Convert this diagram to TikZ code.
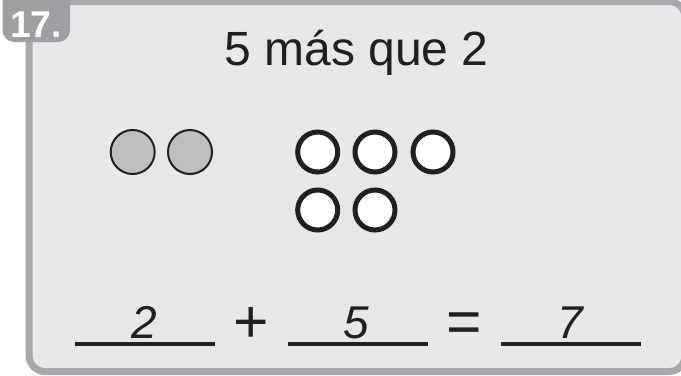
\documentclass[tikz,border=0pt]{standalone}
\usepackage{fontspec}
\setmainfont{Liberation Sans}
\usepackage{tikz}
\usepackage{xcolor}
\usetikzlibrary{positioning}

\definecolor{panelfill}{HTML}{E6E7E8}
\definecolor{panelline}{HTML}{A7A9AC}
\definecolor{badgegray}{HTML}{9D9FA2}
\definecolor{countergray}{HTML}{BCBEC0}
\definecolor{inkblack}{HTML}{231F20}

\begin{document}
\begin{tikzpicture}[
      x=0.75pt, y=-0.75pt,
      panel/.style={draw=panelline, fill=panelfill, line width=5.25pt, rounded corners=12pt},
      graycounter/.style={circle, draw=inkblack, fill=countergray, line width=1.5pt, minimum size=33pt, inner sep=0pt},
      whitecounter/.style={circle, draw=inkblack, fill=white, line width=3.75pt, minimum size=30pt, inner sep=0pt},
      bigtext/.style={anchor=base, inner sep=0pt, text=inkblack, font=\fontsize{34.5}{40}\selectfont},
      answer/.style={bigtext, font=\fontsize{34.5}{40}\selectfont\itshape},
      operator/.style={bigtext, font=\fontsize{45.5}{50}\selectfont},
      blank/.style={draw=inkblack, line width=3pt}
  ]
    \useasboundingbox (0,0) rectangle (681,375);
    \clip (0,0) rectangle (681,375);
    \path[panel] (29,1.5) rectangle (685,371.5);
    \fill[badgegray, rounded corners=9pt] (2.5,-20) rectangle (70,42);
    \node[anchor=base, inner sep=0pt, text=white, font=\fontsize{28}{32}\selectfont\bfseries] (num) at (36,37.5) {17.};
    \node[bigtext, font=\fontsize{36}{42}\selectfont] (title) at (356.5,65) {5 más que 2};
    \node[graycounter] (g1) at (132.7,152) {};
    \node[graycounter] (g2) at (190,152) {};
    \node[whitecounter] (w1) at (317.7,152) {};
    \node[whitecounter] (w2) at (375,152) {};
    \node[whitecounter] (w3) at (433,152) {};
    \node[whitecounter] (w4) at (317.7,210) {};
    \node[whitecounter] (w5) at (375,210) {};
    \coordinate (b1l) at (75,344);
    \coordinate (b1r) at (215,344);
    \coordinate (b2l) at (288,344);
    \coordinate (b2r) at (428,344);
    \coordinate (b3l) at (501,344);
    \coordinate (b3r) at (641,344);
    \draw[blank] (b1l) -- (b1r);
    \draw[blank] (b2l) -- (b2r);
    \draw[blank] (b3l) -- (b3r);
    \node[answer] (a1) at (144,338) {2};
    \node[operator] (plus) at (251.3,342) {+};
    \node[answer] (a2) at (356,338) {5};
    \node[operator] (eq) at (464.3,342) {=};
    \node[answer] (a3) at (570,338) {7};
  \end{tikzpicture}
\end{document}
